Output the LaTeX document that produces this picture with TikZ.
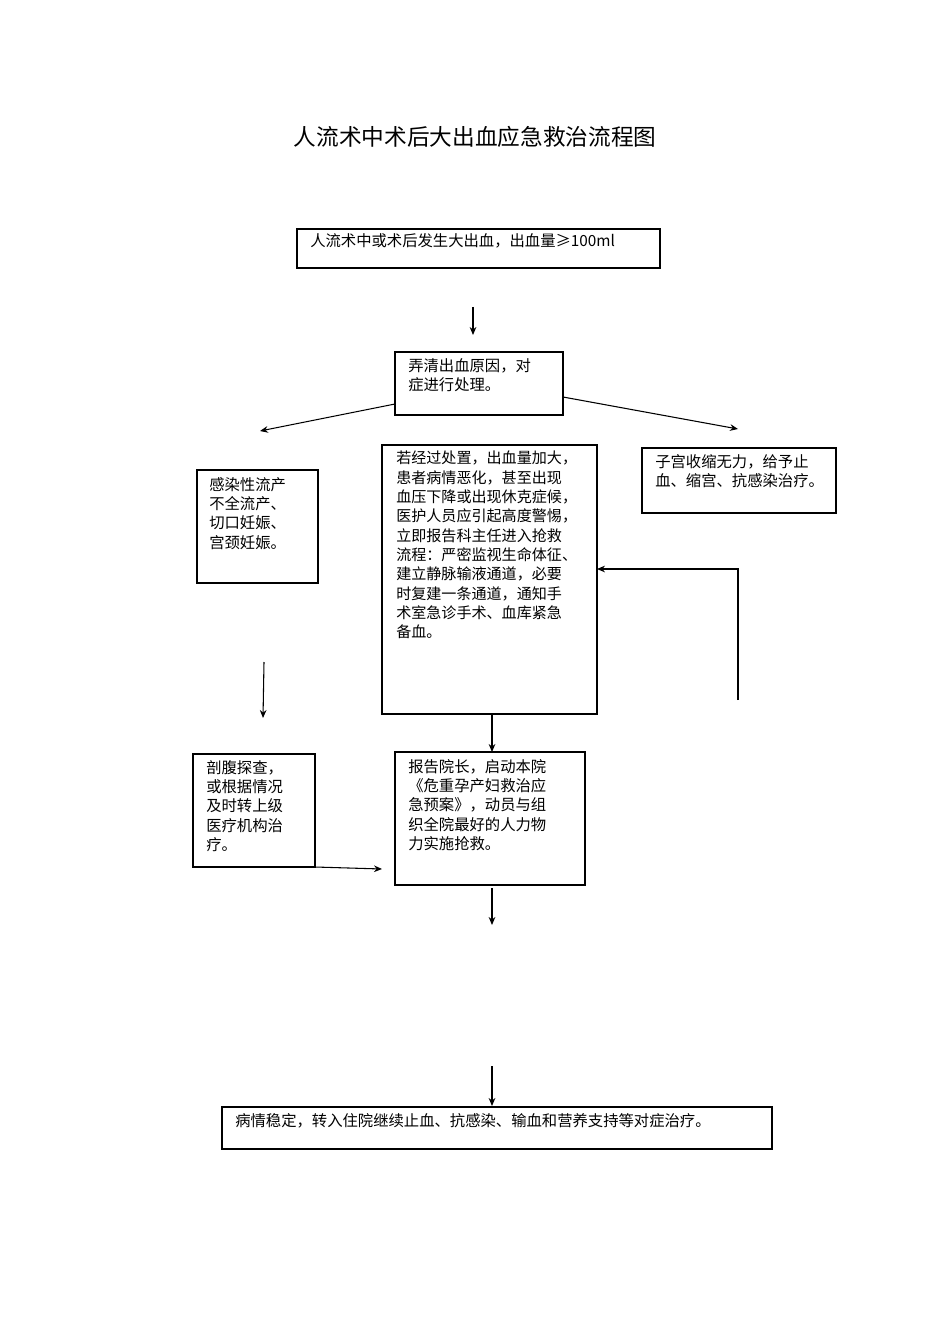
\documentclass[tikz,border=0pt]{standalone}
\usepackage{fontspec}
\setmainfont{Noto Sans CJK SC}
\begin{document}
\begin{tikzpicture}[x=0.75pt,y=-0.75pt,
  bx/.style={draw,line width=0.8pt},
  tx/.style={anchor=north west,align=left,inner sep=0pt,font=\fontsize{11.5pt}{14.5pt}\selectfont},
  ar/.style={-{Stealth[length=6pt,width=5pt]},line width=0.8pt}]
\usetikzlibrary{arrows.meta}
\useasboundingbox (0,0) rectangle (950,1344);
\node[font=\fontsize{17pt}{20pt}\selectfont] (title) at (475,137) {人流术中术后大出血应急救治流程图};
\draw[bx] (297,229) rectangle (660,268);
\node[tx] (t1) at (310,233) {人流术中或术后发生大出血，出血量≥100ml};
\draw[bx] (395,352) rectangle (563,415);
\node[tx] (t2) at (408,358) {弄清出血原因，对\\症进行处理。};
\draw[bx] (197,470) rectangle (318,583);
\node[tx] (t3) at (209,477) {感染性流产\\不全流产、\\切口妊娠、\\宫颈妊娠。};
\draw[bx] (382,445) rectangle (597,714);
\node[tx,font=\fontsize{11.3pt}{14.5pt}\selectfont] (t4) at (396,451) {若经过处置，出血量加大，\\患者病情恶化，甚至出现\\血压下降或出现休克症候，\\医护人员应引起高度警惕，\\立即报告科主任进入抢救\\流程：严密监视生命体征、\\建立静脉输液通道，必要\\时复建一条通道，通知手\\术室急诊手术、血库紧急\\备血。};
\draw[bx] (642,448) rectangle (836,513);
\node[tx] (t5) at (655,454) {子宫收缩无力，给予止\\血、缩宫、抗感染治疗。};
\draw[bx] (193,754) rectangle (315,867);
\node[tx] (t6) at (206,760) {剖腹探查，\\或根据情况\\及时转上级\\医疗机构治\\疗。};
\draw[bx] (395,752) rectangle (585,885);
\node[tx] (t7) at (408,759) {报告院长，启动本院\\《危重孕产妇救治应\\急预案》，动员与组\\织全院最好的人力物\\力实施抢救。};
\draw[bx] (222,1107) rectangle (772,1149);
\node[tx] (t8) at (235,1113) {病情稳定，转入住院继续止血、抗感染、输血和营养支持等对症治疗。};
\draw[ar] (473,307) -- (473,335);
\draw[ar] (395,404) -- (260,431);
\draw[ar] (563,397) -- (738,429);
\draw[ar] (264,662) -- (263,718);
\draw[ar] (738,700) -- (738,569) -- (597,569);
\draw[ar] (492,714) -- (492,752);
\draw[ar] (315,867) -- (382,869);
\draw[ar] (492,888) -- (492,925);
\draw[ar] (492,1066) -- (492,1106);
\end{tikzpicture}
\end{document}
